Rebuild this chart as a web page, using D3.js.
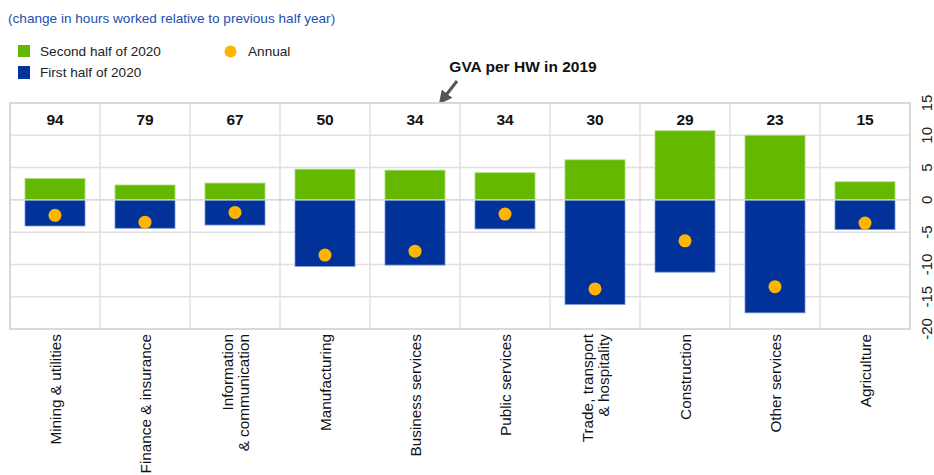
<!DOCTYPE html>
<html>
<head>
<meta charset="utf-8">
<script src="https://cdn.jsdelivr.net/npm/d3@7"></script>
<style>
  body { margin: 0; background: #fff; }
  svg { font-family: Arial, "Liberation Sans", sans-serif; }
</style>
</head>
<body>
<svg id="chart" width="934" height="475"></svg>
<script>
const categories = [
  'Mining & utilities', 'Finance & insurance', 'Information\n& communication',
  'Manufacturing', 'Business services', 'Public services',
  'Trade, transport\n& hospitality', 'Construction', 'Other services', 'Agriculture'
];
const gvaPerHW = [94, 79, 67, 50, 34, 34, 30, 29, 23, 15];
const secondHalf = [3.3, 2.3, 2.6, 4.75, 4.6, 4.2, 6.2, 10.7, 10.0, 2.8];
const firstHalf = [-4.05, -4.4, -3.9, -10.3, -10.1, -4.5, -16.2, -11.2, -17.5, -4.6];
const annual = [-2.4, -3.45, -1.95, -8.55, -7.95, -2.2, -13.8, -6.35, -13.45, -3.6];
const yTicks = [15, 10, 5, 0, -5, -10, -15, -20];

const green = '#65b800', blue = '#003299', orange = '#ffb400';

const margin = { top: 103, left: 10, right: 24, bottom: 146 };
const width = 934, height = 475;
const innerW = width - margin.left - margin.right;
const innerH = height - margin.top - margin.bottom;

const svg = d3.select('#chart');

const x = d3.scaleBand().domain(categories).range([0, innerW]);
const y = d3.scaleLinear().domain([-20, 15]).range([innerH, 0]);

// title
svg.append('text')
  .attr('x', 8).attr('y', 23)
  .attr('fill', '#2150b0')
  .style('font-size', '13.6px')
  .text('(change in hours worked relative to previous half year)');

// legend
const legend = svg.append('g').style('font-size', '13.6px').attr('fill', '#222');
legend.append('rect').attr('x', 18).attr('y', 45).attr('width', 12).attr('height', 12).attr('fill', green);
legend.append('text').attr('x', 40).attr('y', 56).text('Second half of 2020');
legend.append('rect').attr('x', 18).attr('y', 66).attr('width', 12).attr('height', 13).attr('fill', blue);
legend.append('text').attr('x', 40).attr('y', 77).text('First half of 2020');
legend.append('circle').attr('cx', 230.5).attr('cy', 51.5).attr('r', 6).attr('fill', orange);
legend.append('text').attr('x', 248).attr('y', 56).text('Annual');

// annotation
svg.append('defs').append('marker')
  .attr('id', 'arrow')
  .attr('viewBox', '0 0 10 10')
  .attr('refX', 5).attr('refY', 5)
  .attr('markerWidth', 4.5).attr('markerHeight', 4.5)
  .attr('orient', 'auto')
  .append('path').attr('d', 'M0,0 L10,5 L0,10 Z').attr('fill', '#555');
svg.append('line')
  .attr('x1', 457).attr('y1', 81).attr('x2', 443).attr('y2', 99)
  .attr('stroke', '#555').attr('stroke-width', 3)
  .attr('marker-end', 'url(#arrow)');
svg.append('text')
  .attr('x', 523).attr('y', 72)
  .attr('text-anchor', 'middle')
  .style('font-size', '15.5px').style('font-weight', 'bold').attr('fill', '#111')
  .text('GVA per HW in 2019');

const chart = svg.append('g').attr('transform', `translate(${margin.left},${margin.top})`);

// grid
chart.selectAll('.hgrid')
  .data(yTicks)
  .join('line')
  .attr('class', 'hgrid')
  .attr('x1', 0).attr('x2', innerW)
  .attr('y1', d => y(d)).attr('y2', d => y(d))
  .attr('stroke', '#e0e0e0').attr('stroke-width', 1.5);

chart.selectAll('.vgrid')
  .data(categories.slice(1))
  .join('line')
  .attr('class', 'vgrid')
  .attr('x1', d => x(d)).attr('x2', d => x(d))
  .attr('y1', 0).attr('y2', innerH)
  .attr('stroke', '#e0e0e0').attr('stroke-width', 1.5);

const barW = x.bandwidth() * 0.667;
const barOff = (x.bandwidth() - barW) / 2;

chart.selectAll('.bar-second')
  .data(secondHalf)
  .join('rect')
  .attr('class', 'bar-second')
  .attr('x', (d, i) => x(categories[i]) + barOff)
  .attr('y', d => y(d))
  .attr('width', barW)
  .attr('height', d => y(0) - y(d))
  .attr('fill', green)
  .attr('stroke', '#a9dc7a').attr('stroke-width', 0.8);

chart.selectAll('.bar-first')
  .data(firstHalf)
  .join('rect')
  .attr('class', 'bar-first')
  .attr('x', (d, i) => x(categories[i]) + barOff)
  .attr('y', y(0))
  .attr('width', barW)
  .attr('height', d => y(d) - y(0))
  .attr('fill', blue)
  .attr('stroke', '#7f98d6').attr('stroke-width', 0.8);

// zero line on top
chart.append('line')
  .attr('x1', 0).attr('x2', innerW)
  .attr('y1', y(0)).attr('y2', y(0))
  .attr('stroke', '#d4d9e2').attr('stroke-width', 1.2);

chart.selectAll('.dot')
  .data(annual)
  .join('circle')
  .attr('class', 'dot')
  .attr('cx', (d, i) => x(categories[i]) + x.bandwidth() / 2)
  .attr('cy', d => y(d))
  .attr('r', 6.5)
  .attr('fill', orange);

// border
chart.append('rect')
  .attr('x', 0).attr('y', 0)
  .attr('width', innerW).attr('height', innerH)
  .attr('fill', 'none')
  .attr('stroke', '#d9d9d9').attr('stroke-width', 2);

// GVA values in top band
chart.selectAll('.gva')
  .data(gvaPerHW)
  .join('text')
  .attr('class', 'gva')
  .attr('x', (d, i) => x(categories[i]) + x.bandwidth() / 2)
  .attr('y', y(12.5))
  .attr('dy', '0.35em')
  .attr('text-anchor', 'middle')
  .style('font-size', '15.5px').style('font-weight', 'bold').attr('fill', '#111')
  .text(d => d);

// right axis labels, rotated
chart.selectAll('.ytick')
  .data(yTicks)
  .join('text')
  .attr('class', 'ytick')
  .attr('transform', d => `translate(${innerW + 17},${y(d)}) rotate(-90)`)
  .attr('text-anchor', 'middle')
  .attr('dy', '0.35em')
  .style('font-size', '15px').attr('fill', '#222')
  .text(d => d);

// category labels, rotated
const catG = chart.selectAll('.cat')
  .data(categories)
  .join('text')
  .attr('class', 'cat')
  .attr('transform', d => `translate(${x(d) + x.bandwidth() / 2 + 1},${innerH + 5}) rotate(-90)`)
  .attr('text-anchor', 'end')
  .style('font-size', '15.3px').attr('fill', '#111');

catG.each(function (d) {
  const lines = d.split('\n');
  const t = d3.select(this);
  lines.forEach((ln, j) => {
    t.append('tspan')
      .attr('x', 0)
      .attr('y', (j - (lines.length - 1) / 2) * 16)
      .attr('dy', '0.35em')
      .text(ln);
  });
});
</script>
</body>
</html>
